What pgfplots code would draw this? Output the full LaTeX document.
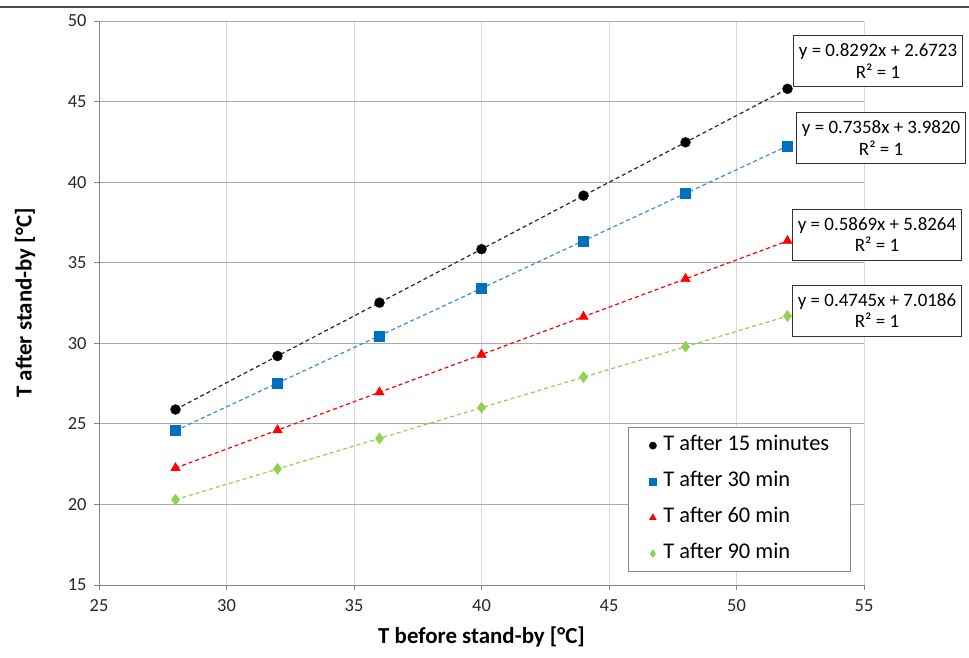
\documentclass[border=0pt]{standalone}
\usepackage{pgfplots}
\pgfplotsset{compat=1.18}
\usepackage{fontspec}
\setmainfont{Carlito}
\definecolor{cblue}{RGB}{0,112,192}
\definecolor{cblueline}{RGB}{60,140,210}
\definecolor{cred}{RGB}{255,0,0}
\definecolor{cgreen}{RGB}{146,208,80}
\definecolor{hgrid}{RGB}{170,170,170}
\definecolor{vgrid}{RGB}{217,217,217}
\definecolor{axisgray}{RGB}{134,134,134}
\begin{document}
\begin{tikzpicture}
\path[use as bounding box] (0bp,0bp) rectangle (969bp,658bp);
\draw[line width=1.5bp, black!70] (0bp,651bp) -- (969bp,651bp);
\begin{axis}[
  at={(99bp,73bp)}, anchor=south west,
  scale only axis, width=765bp, height=564bp,
  xmin=25, xmax=55, ymin=15, ymax=50,
  xtick={25,30,...,55}, ytick={15,20,...,50},
  axis lines=left, axis line style={-, draw=axisgray, line width=0.8bp},
  tick align=outside, major tick length=5bp,
  tick style={draw=axisgray, line width=0.8bp},
  xmajorgrids, ymajorgrids,
  x grid style={draw=vgrid, line width=0.8bp},
  y grid style={draw=hgrid, line width=0.8bp},
  /pgf/number format/assume math mode=true,
  ticklabel style={font=\fontsize{18.5}{20}\selectfont, text=black!85},
  xticklabel style={yshift=-6bp},
  yticklabel style={xshift=-4bp},
  xlabel={T before stand-by [°C]},
  ylabel={T after stand-by [°C]},
  label style={font=\bfseries\fontsize{23}{26}\selectfont},
  xlabel style={at={(axis description cs:0.5,-0.092)}, anchor=center},
  ylabel style={at={(axis description cs:-0.0967,0.5)}, anchor=center, rotate=0},
  legend style={at={(0.6915,0.023)}, anchor=south west, draw=axisgray, line width=0.8bp,
    font=\fontsize{22.5}{24}\selectfont, row sep=16bp, inner xsep=21bp, inner ysep=8bp,
    nodes={inner sep=0bp, text height=15bp, text depth=5bp}},
  legend image post style={mark size=3.5bp},
  legend cell align=left,
  clip=false,
]
% trendlines
\addplot[forget plot, black!85, dash pattern=on 4bp off 3bp, line width=1.2bp] coordinates {(28,25.89) (32,29.21) (36,32.52) (40,35.84) (44,39.16) (48,42.47) (52,45.79)};
\addplot[forget plot, cblueline, dash pattern=on 4bp off 3bp, line width=1.2bp] coordinates {(28,24.58) (32,27.53) (36,30.47) (40,33.41) (44,36.36) (48,39.30) (52,42.24)};
\addplot[forget plot, cred, dash pattern=on 4bp off 3bp, line width=1.2bp] coordinates {(28,22.26) (32,24.61) (36,26.96) (40,29.30) (44,31.65) (48,34.00) (52,36.35)};
\addplot[forget plot, cgreen, dash pattern=on 4bp off 3bp, line width=1.2bp] coordinates {(28,20.30) (32,22.20) (36,24.10) (40,26.00) (44,27.90) (48,29.79) (52,31.69)};
% markers
\addplot[only marks, mark=*, mark size=5bp, mark options={fill=black, draw=black!70!violet}] coordinates {(28,25.89) (32,29.21) (36,32.52) (40,35.84) (44,39.16) (48,42.47) (52,45.79)};
\addlegendentry{\hspace*{7bp}T after 15 minutes}
\addplot[only marks, mark=square*, mark size=5bp, mark options={fill=cblue, draw=cblue}] coordinates {(28,24.58) (32,27.53) (36,30.47) (40,33.41) (44,36.36) (48,39.30) (52,42.24)};
\addlegendentry{\hspace*{7bp}T after 30 min}
\addplot[only marks, mark=triangle*, mark size=5.5bp, mark options={fill=cred, draw=cred}] coordinates {(28,22.26) (32,24.61) (36,26.96) (40,29.30) (44,31.65) (48,34.00) (52,36.35)};
\addlegendentry{\hspace*{7bp}T after 60 min}
\addplot[only marks, mark=diamond*, mark size=5.5bp, mark options={fill=cgreen, draw=cgreen}] coordinates {(28,20.30) (32,22.20) (36,24.10) (40,26.00) (44,27.90) (48,29.79) (52,31.69)};
\addlegendentry{\hspace*{7bp}T after 90 min}
% trendline equations
\tikzset{eqbox/.style={draw=black!80, line width=1bp, fill=white, align=center, font=\fontsize{19}{22}\selectfont, minimum width=169bp, minimum height=51bp, inner sep=2bp}}
\node[eqbox] at (axis cs:55.55,47.49) {y = 0.8292x + 2.6723\\R² = 1};
\node[eqbox] at (axis cs:55.67,42.74) {y = 0.7358x + 3.9820\\R² = 1};
\node[eqbox] at (axis cs:55.51,36.75) {y = 0.5869x + 5.8264\\R² = 1};
\node[eqbox] at (axis cs:55.51,32.03) {y = 0.4745x + 7.0186\\R² = 1};
\end{axis}
\end{tikzpicture}
\end{document}
